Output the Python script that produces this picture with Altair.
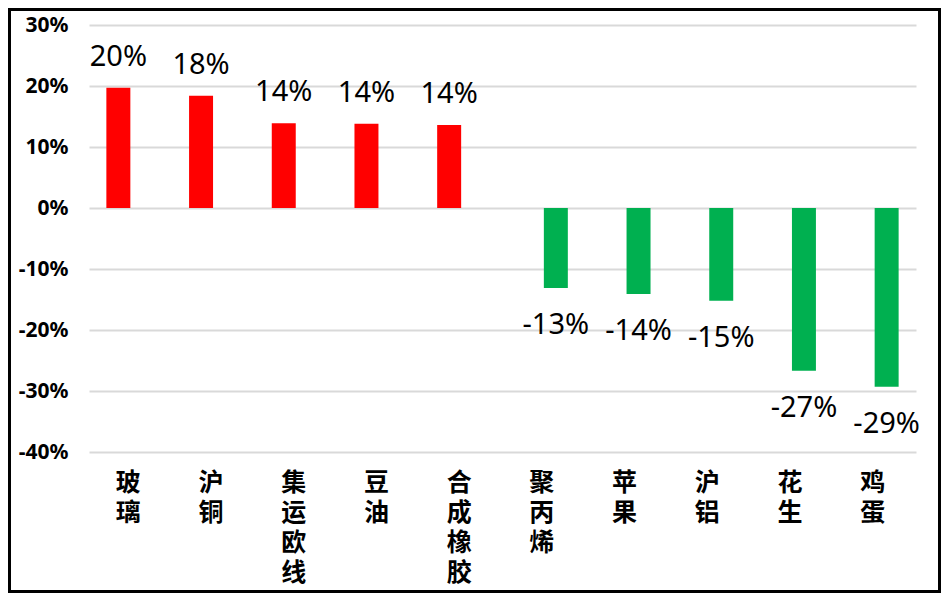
import altair as alt
import pandas as pd

categories = ["玻璃", "沪铜", "集运欧线", "豆油", "合成橡胶", "聚丙烯", "苹果", "沪铝", "花生", "鸡蛋"]
values = [0.197, 0.184, 0.139, 0.138, 0.136, -0.131, -0.141, -0.152, -0.267, -0.293]
y_ticks = [-0.4, -0.3, -0.2, -0.1, 0.0, 0.1, 0.2, 0.3]

df = pd.DataFrame({"cat": categories, "val": values})
df["sign"] = ["pos" if v >= 0 else "neg" for v in values]
df["label"] = [f"{round(v * 100)}%" for v in values]

W, H = 827, 427
PL, PT, PR, PB = 81, 17, 25, 141

x_enc = alt.X("cat:N", sort=categories, title=None,
              scale=alt.Scale(paddingInner=0.42, paddingOuter=0.21),
              axis=alt.Axis(labelAngle=0, domain=False, ticks=False, grid=False,
                            labelExpr="split(datum.label, '')",
                            labelFont="Noto Sans CJK SC", labelFontWeight="bold",
                            labelFontSize=25, labelLineHeight=30, labelColor="#000000",
                            labelPadding=18, labelOffset=-2))
xo_enc = alt.XOffset("sign:N", scale=alt.Scale(domain=["pos", "neg"]))
y_enc = alt.Y("val:Q", title=None,
              scale=alt.Scale(domain=[-0.4, 0.3], nice=False, zero=False),
              axis=alt.Axis(values=y_ticks, labelExpr="round(datum.value*100) + '%'",
                            domain=False, ticks=False, grid=True,
                            gridColor="#d9d9d9", gridWidth=2,
                            labelFont="Noto Sans", labelFontWeight="bold",
                            labelFontSize=21, labelColor="#000000", labelPadding=21))

base = alt.Chart(df)

bars = base.mark_bar().encode(
    x=x_enc, xOffset=xo_enc, y=y_enc,
    color=alt.Color("sign:N", scale=alt.Scale(domain=["pos", "neg"], range=["#ff0000", "#00b050"]), legend=None),
)

txt_pos = base.transform_filter("datum.val >= 0").mark_text(
    font="Noto Sans", fontSize=29, color="#000000", baseline="alphabetic", dy=-22
).encode(x=x_enc, xOffset=xo_enc, y=y_enc, text="label:N")

txt_neg = base.transform_filter("datum.val < 0").mark_text(
    font="Noto Sans", fontSize=29, color="#000000", baseline="alphabetic", dy=46
).encode(x=x_enc, xOffset=xo_enc, y=y_enc, text="label:N")

border = alt.Chart(pd.DataFrame({"a": [0]})).mark_rect(
    fillOpacity=0, stroke="#000000", strokeWidth=3
).encode(
    x=alt.value(-PL + 1.5), x2=alt.value(W + PR - 1.5),
    y=alt.value(-PT + 1.5), y2=alt.value(H + PB - 1.5),
)

chart = alt.layer(bars, txt_pos, txt_neg, border).properties(
    width=W, height=H,
    background="#ffffff",
    autosize=alt.AutoSizeParams(type="none"),
    padding={"left": PL, "top": PT, "right": PR, "bottom": PB},
).configure_view(stroke="transparent", strokeWidth=0)

chart.save("out.html", embed_options={"renderer": "svg", "actions": False})
